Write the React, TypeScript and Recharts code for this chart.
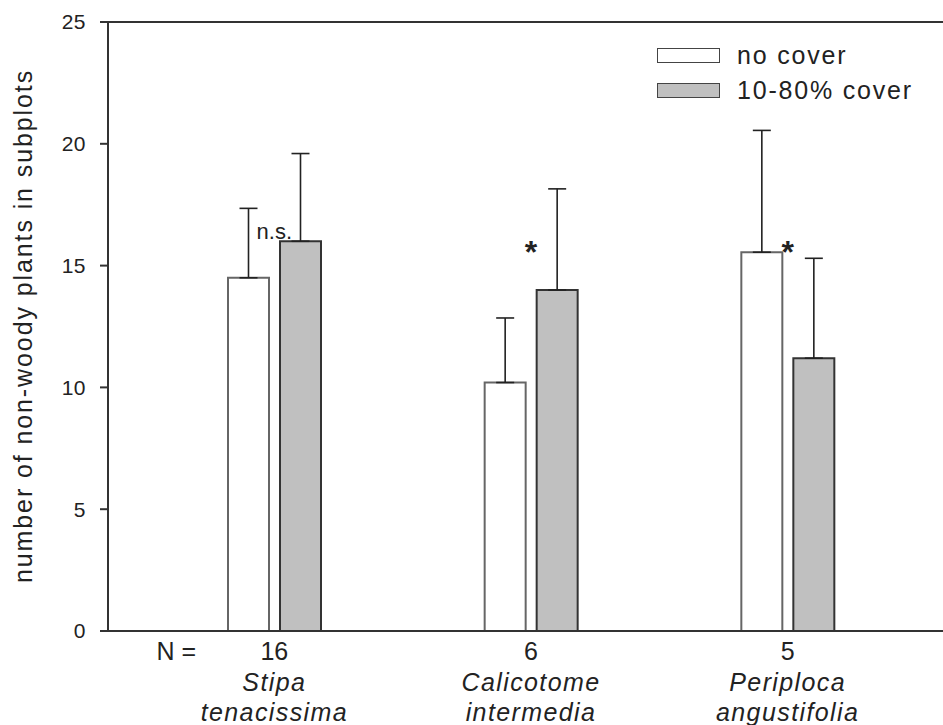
import React from 'react'
import { BarChart, Bar, XAxis, YAxis, ErrorBar, ReferenceDot } from 'recharts'

// values
const speciesGenus = ['Stipa', 'Calicotome', 'Periploca']
const speciesEpithet = ['tenacissima', 'intermedia', 'angustifolia']
const sampleN = [16, 6, 5]
const noCover = [14.5, 10.2, 15.55]
const noCoverErr = [2.85, 2.65, 5.0]
const partCover = [16.0, 14.0, 11.2]
const partCoverErr = [3.6, 4.15, 4.1]
const marks = ['n.s.', '*', '*']
const markY = [16.1, 15.1, 15.1]
const yTicks = [0, 5, 10, 15, 20, 25]

const chartData = speciesGenus.map((g, i) => ({
  name: g,
  epithet: speciesEpithet[i],
  n: sampleN[i],
  none: noCover[i],
  noneErr: [0, noCoverErr[i]],
  part: partCover[i],
  partErr: [0, partCoverErr[i]],
}))

const FONT = '"Liberation Sans", Arial, Helvetica, sans-serif'
const INK = '#222'

const SpeciesTick = ({ x, y, payload, index }: any) => {
  const row = chartData[index] || chartData.find((d) => d.name === payload.value)
  return (
    <g fontFamily={FONT} fill={INK}>
      {index === 0 && (
        <text x={x - 98} y={y + 29} textAnchor="middle" fontSize={25} fill={INK}>
          N =
        </text>
      )}
      <text x={x} y={y + 29} textAnchor="middle" fontSize={25} fill={INK}>
        {row.n}
      </text>
      <text x={x} y={y + 60} textAnchor="middle" fontSize={25} fontStyle="italic" letterSpacing={1.4} fill={INK}>
        {row.name}
      </text>
      <text x={x} y={y + 90} textAnchor="middle" fontSize={25} fontStyle="italic" letterSpacing={1.4} fill={INK}>
        {row.epithet}
      </text>
    </g>
  )
}

const YTitle = () => (
  <text
    transform="translate(32,326) rotate(-90)"
    textAnchor="middle"
    fontFamily={FONT}
    fontSize={25}
    letterSpacing={1.9}
    fill={INK}
  >
    number of non-woody plants in subplots
  </text>
)

function LegendBox() {
  const rows = [
    { label: 'no cover', fill: '#ffffff' },
    { label: '10-80% cover', fill: '#c0c0c0' },
  ]
  return (
    <div style={{ position: 'absolute', left: 657, top: 38, fontFamily: FONT }}>
      {rows.map((r) => (
        <div key={r.label} style={{ display: 'flex', alignItems: 'center', height: 35 }}>
          <div
            style={{
              width: 61,
              height: 13,
              background: r.fill,
              border: '1.5px solid #444',
            }}
          />
          <span style={{ marginLeft: 17, fontSize: 25, letterSpacing: 1.8, color: INK }}>{r.label}</span>
        </div>
      ))}
    </div>
  )
}

export default function App() {
  return (
    <div style={{ position: 'absolute', left: 0, top: 0, width: 943, height: 725, background: '#fff' }}>
      <BarChart
        width={943}
        height={725}
        data={chartData}
        margin={{ top: 21, right: 0, left: 0, bottom: 0 }}
        barSize={41}
        barGap={11}
      >
        <XAxis
          xAxisId="top"
          orientation="top"
          dataKey="name"
          height={1}
          tick={false}
          tickLine={false}
          axisLine={{ stroke: '#333', strokeWidth: 2 }}
        />
        <XAxis
          dataKey="name"
          height={94}
          padding={{ left: 38, right: 27 }}
          axisLine={{ stroke: '#333', strokeWidth: 2 }}
          tickLine={false}
          tickSize={0}
          tickMargin={0}
          interval={0}
          tick={<SpeciesTick />}
        />
        <YAxis
          width={108}
          domain={[0, 25]}
          ticks={yTicks}
          allowDataOverflow
          axisLine={{ stroke: '#333', strokeWidth: 2 }}
          tickLine={{ stroke: '#333', strokeWidth: 2 }}
          tickSize={8}
          tickMargin={14}
          tick={{ fontSize: 21, fill: INK, fontFamily: FONT, letterSpacing: 0.5 }}
          label={{ content: <YTitle /> }}
        />
        <Bar dataKey="none" fill="#ffffff" stroke="#666" strokeWidth={2} isAnimationActive={false}>
          <ErrorBar dataKey="noneErr" width={9} stroke="#222" strokeWidth={1.6} direction="y" />
        </Bar>
        <Bar dataKey="part" fill="#c0c0c0" stroke="#333" strokeWidth={2} isAnimationActive={false}>
          <ErrorBar dataKey="partErr" width={9} stroke="#222" strokeWidth={1.6} direction="y" />
        </Bar>
        {speciesGenus.map((g, i) => (
          <ReferenceDot
            key={g}
            x={g}
            y={markY[i]}
            r={0}
            shape={(p: any) => (
              <text
                x={p.cx}
                y={p.cy}
                textAnchor="middle"
                fontFamily={FONT}
                fontSize={marks[i] === '*' ? 32 : 22}
                fontWeight={marks[i] === '*' ? 'bold' : 'normal'}
                fill={INK}
              >
                {marks[i]}
              </text>
            )}
          />
        ))}
      </BarChart>
      <LegendBox />
    </div>
  )
}
